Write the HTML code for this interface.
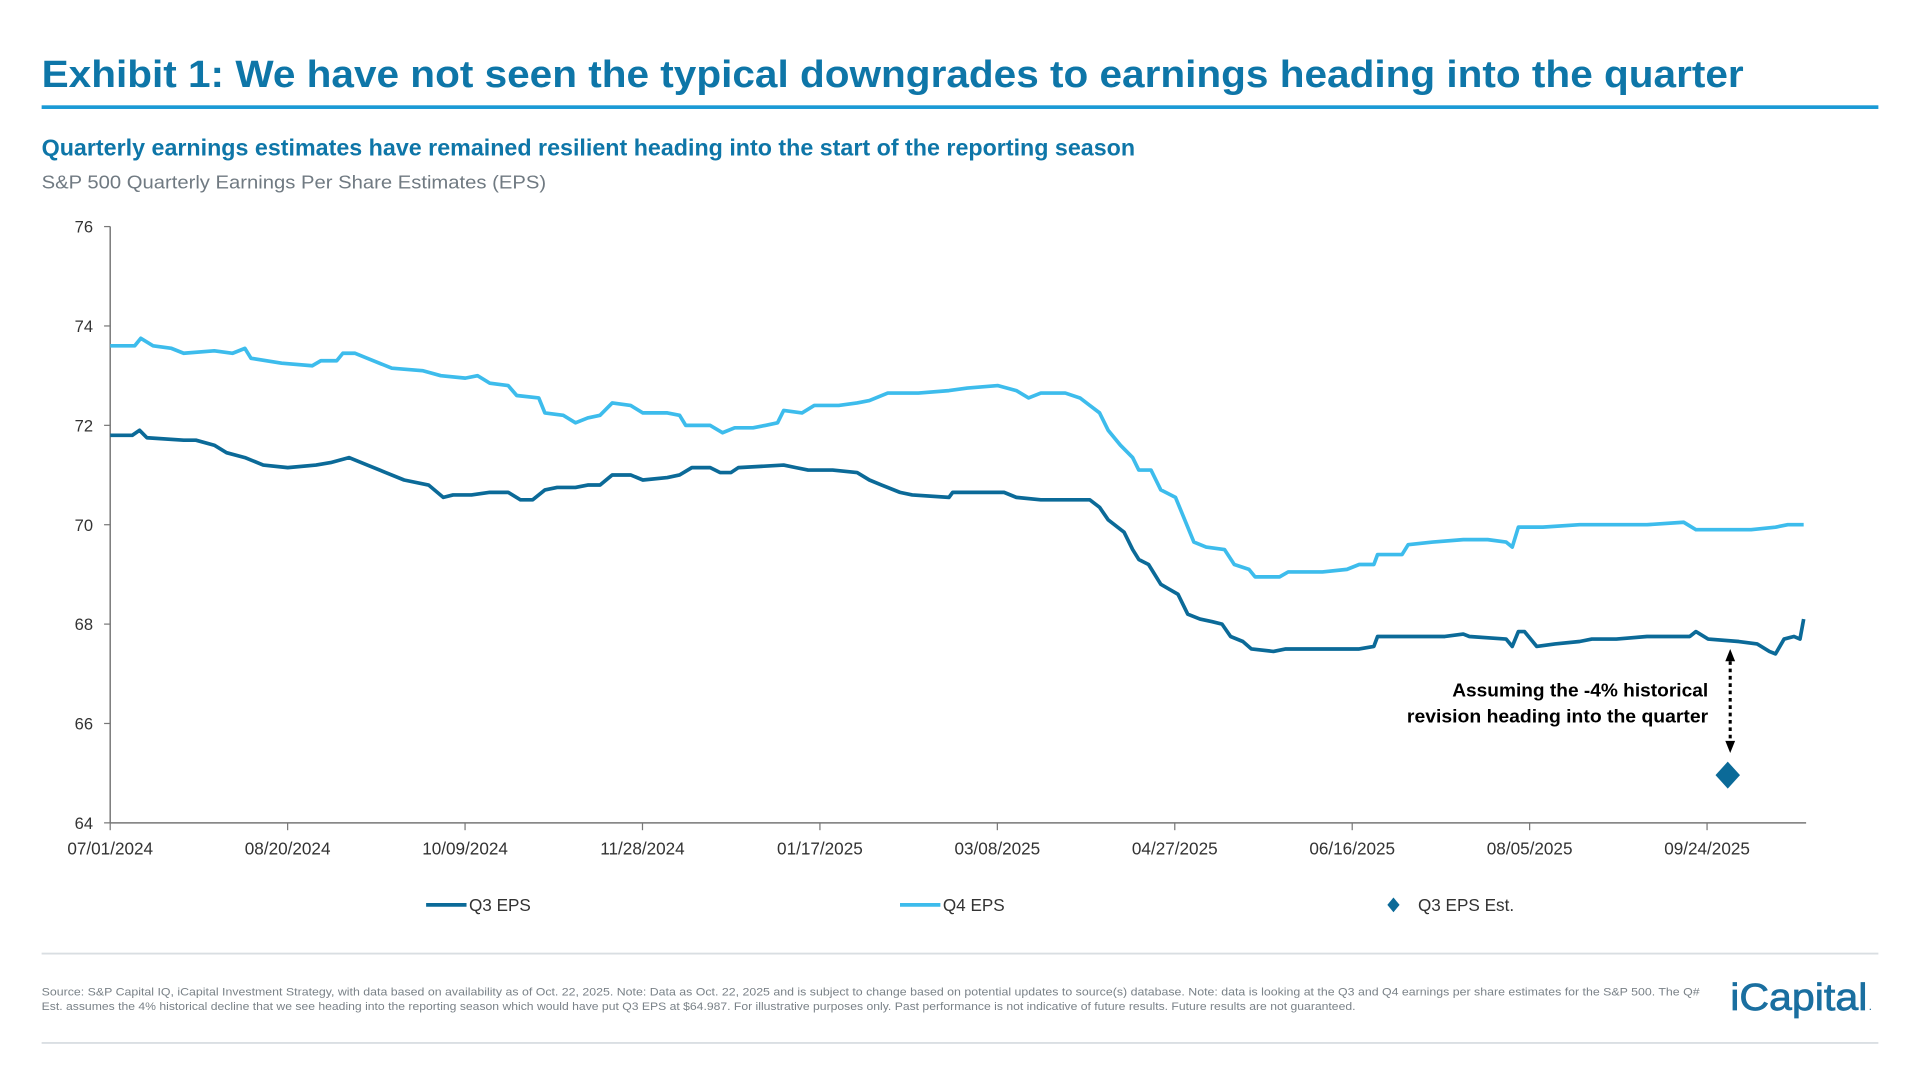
<!DOCTYPE html>
<html><head><meta charset="utf-8"><style>
html,body{margin:0;padding:0;background:#fff;}
svg{display:block}
text{font-family:"Liberation Sans",sans-serif}
</style></head><body>
<svg id="s" width="1920" height="1080" viewBox="0 0 1568 882" xmlns="http://www.w3.org/2000/svg">
<text x="34" y="71" font-size="31" font-weight="bold" fill="#0e76a8" textLength="1390" lengthAdjust="spacingAndGlyphs">Exhibit 1: We have not seen the typical downgrades to earnings heading into the quarter</text>
<rect x="34" y="86" width="1500" height="3" fill="#1a9ad6"/>
<text x="34" y="127" font-size="18.5" font-weight="bold" fill="#0e76a8" textLength="893" lengthAdjust="spacingAndGlyphs">Quarterly earnings estimates have remained resilient heading into the start of the reporting season</text>
<text x="34" y="154" font-size="15" fill="#707a82" textLength="412" lengthAdjust="spacingAndGlyphs">S&amp;P 500 Quarterly Earnings Per Share Estimates (EPS)</text>
<g stroke="#777" stroke-width="1.2" fill="none">
<line x1="90" y1="185" x2="90" y2="672"/>
<line x1="90" y1="672" x2="1475" y2="672"/>
</g>
<g id="yt" font-size="13.5" fill="#333" text-anchor="end"></g>
<g id="xt" font-size="14" fill="#333" text-anchor="middle"></g>
<path id="q4" fill="none" stroke="#3dbcec" stroke-width="3" stroke-linejoin="round"/>
<path id="q3" fill="none" stroke="#0b6a98" stroke-width="3" stroke-linejoin="round"/>
<line x1="1413" y1="540" x2="1413" y2="606" stroke="#000" stroke-width="2.5" stroke-dasharray="3,3"/>
<polygon points="1413,530 1409,540 1417,540" fill="#000"/>
<polygon points="1413,615 1409,605 1417,605" fill="#000"/>
<polygon points="1411,622 1421,633 1411,644 1401,633" fill="#0b6a98"/>
<text x="1395" y="569" font-size="15" font-weight="bold" fill="#000" text-anchor="end" textLength="209" lengthAdjust="spacingAndGlyphs">Assuming the -4%  historical</text>
<text x="1395" y="590" font-size="15" font-weight="bold" fill="#000" text-anchor="end" textLength="246" lengthAdjust="spacingAndGlyphs">revision heading into the quarter</text>
<line x1="348" y1="739" x2="381" y2="739" stroke="#0b6a98" stroke-width="3"/>
<text x="383" y="744" font-size="14" fill="#333">Q3 EPS</text>
<line x1="735" y1="739" x2="768" y2="739" stroke="#3dbcec" stroke-width="3"/>
<text x="770" y="744" font-size="14" fill="#333">Q4 EPS</text>
<polygon points="1138,733 1143,739 1138,745 1133,739" fill="#0b6a98"/>
<text x="1158" y="744" font-size="14" fill="#333">Q3 EPS Est.</text>
<rect x="34" y="778" width="1500" height="1.5" fill="#d9dee2"/>
<rect x="34" y="851" width="1500" height="1.5" fill="#d9dee2"/>
<text x="34" y="813" font-size="8.8" fill="#7a8288" textLength="1354" lengthAdjust="spacingAndGlyphs">Source: S&amp;P Capital IQ, iCapital Investment Strategy, with data based on availability as of Oct. 22, 2025. Note: Data as Oct. 22, 2025 and is subject to change based on potential updates to source(s) database. Note: data is looking at the Q3 and Q4 earnings per share estimates for the S&amp;P 500. The Q#</text>
<text x="34" y="825" font-size="8.8" fill="#7a8288" textLength="1073" lengthAdjust="spacingAndGlyphs">Est. assumes the 4% historical decline that we see heading into the reporting season which would have put Q3 EPS at $64.987. For illustrative purposes only. Past performance is not indicative of future results. Future results are not guaranteed.</text>
<text x="1413" y="825" font-size="31" fill="#1a6fa0" stroke="#1a6fa0" stroke-width="0.6" font-family="Liberation Serif,serif" textLength="112" lengthAdjust="spacingAndGlyphs">iCapital</text>
<text x="1526" y="825" font-size="10" fill="#1a6fa0">.</text>
</svg>
<script>
function Y(v){return 672-(v-64)*40.58;}
var yt=document.getElementById('yt'),xt=document.getElementById('xt'),s=document.getElementById('s');
var NS="http://www.w3.org/2000/svg";
for(var v=64;v<=76;v+=2){var t=document.createElementNS(NS,'text');t.setAttribute('x',76);t.setAttribute('y',Y(v)+5);t.textContent=v;yt.appendChild(t);
var l=document.createElementNS(NS,'line');l.setAttribute('x1',85);l.setAttribute('x2',90);l.setAttribute('y1',Y(v));l.setAttribute('y2',Y(v));l.setAttribute('stroke','#777');s.appendChild(l);}
var labs=["07/01/2024","08/20/2024","10/09/2024","11/28/2024","01/17/2025","03/08/2025","04/27/2025","06/16/2025","08/05/2025","09/24/2025"];
for(var i=0;i<labs.length;i++){var x=90+i*144.9;var t=document.createElementNS(NS,'text');t.setAttribute('x',x);t.setAttribute('y',698);t.textContent=labs[i];xt.appendChild(t);
var l=document.createElementNS(NS,'line');l.setAttribute('x1',x);l.setAttribute('x2',x);l.setAttribute('y1',672);l.setAttribute('y2',678);l.setAttribute('stroke','#777');s.appendChild(l);}
var q3=[[90,71.8],[108,71.8],[114,71.9],[120,71.75],[150,71.7],[160,71.7],[175,71.6],[185,71.45],[200,71.35],[215,71.2],[235,71.15],[258,71.2],[270,71.25],[285,71.35],[300,71.2],[315,71.05],[330,70.9],[350,70.8],[362,70.55],[370,70.6],[385,70.6],[400,70.65],[415,70.65],[425,70.5],[435,70.5],[445,70.7],[455,70.75],[470,70.75],[480,70.8],[490,70.8],[500,71.0],[515,71.0],[525,70.9],[545,70.95],[555,71.0],[565,71.15],[580,71.15],[588,71.05],[597,71.05],[603,71.15],[640,71.2],[650,71.15],[660,71.1],[680,71.1],[700,71.05],[710,70.9],[720,70.8],[735,70.65],[745,70.6],[775,70.55],[778,70.65],[820,70.65],[830,70.55],[850,70.5],[890,70.5],[898,70.35],[905,70.1],[918,69.85],[925,69.5],[930,69.3],[938,69.2],[948,68.8],[955,68.7],[962,68.6],[970,68.2],[980,68.1],[990,68.05],[998,68.0],[1005,67.75],[1015,67.65],[1022,67.5],[1040,67.45],[1050,67.5],[1095,67.5],[1110,67.5],[1122,67.55],[1125,67.75],[1180,67.75],[1195,67.8],[1200,67.75],[1230,67.7],[1235,67.55],[1240,67.85],[1245,67.85],[1255,67.55],[1270,67.6],[1290,67.65],[1300,67.7],[1320,67.7],[1345,67.75],[1380,67.75],[1385,67.85],[1395,67.7],[1420,67.65],[1435,67.6],[1445,67.45],[1450,67.4],[1457,67.7],[1465,67.75],[1470,67.7],[1473,68.1]];
var q4=[[90,73.6],[110,73.6],[115,73.75],[125,73.6],[140,73.55],[150,73.45],[175,73.5],[190,73.45],[200,73.55],[205,73.35],[230,73.25],[255,73.2],[262,73.3],[275,73.3],[280,73.45],[290,73.45],[300,73.35],[320,73.15],[345,73.1],[360,73.0],[380,72.95],[390,73.0],[400,72.85],[415,72.8],[422,72.6],[440,72.55],[445,72.25],[460,72.2],[470,72.05],[480,72.15],[490,72.2],[500,72.45],[515,72.4],[525,72.25],[545,72.25],[555,72.2],[560,72.0],[580,72.0],[590,71.85],[600,71.95],[615,71.95],[625,72.0],[635,72.05],[640,72.3],[655,72.25],[665,72.4],[685,72.4],[700,72.45],[710,72.5],[725,72.65],[750,72.65],[775,72.7],[790,72.75],[815,72.8],[830,72.7],[840,72.55],[850,72.65],[870,72.65],[882,72.55],[890,72.4],[898,72.25],[905,71.9],[915,71.6],[925,71.35],[930,71.1],[940,71.1],[948,70.7],[960,70.55],[970,69.95],[975,69.65],[985,69.55],[1000,69.5],[1008,69.2],[1020,69.1],[1025,68.95],[1045,68.95],[1052,69.05],[1080,69.05],[1100,69.1],[1110,69.2],[1122,69.2],[1125,69.4],[1145,69.4],[1150,69.6],[1170,69.65],[1195,69.7],[1215,69.7],[1230,69.65],[1235,69.55],[1240,69.95],[1260,69.95],[1290,70.0],[1320,70.0],[1345,70.0],[1375,70.05],[1385,69.9],[1410,69.9],[1430,69.9],[1450,69.95],[1460,70.0],[1473,70.0]];
function P(a){return a.map(function(p,i){return (i?'L':'M')+p[0]+','+Y(p[1]).toFixed(1);}).join('');}
document.getElementById('q3').setAttribute('d',P(q3));
document.getElementById('q4').setAttribute('d',P(q4));
</script>
</body></html>
